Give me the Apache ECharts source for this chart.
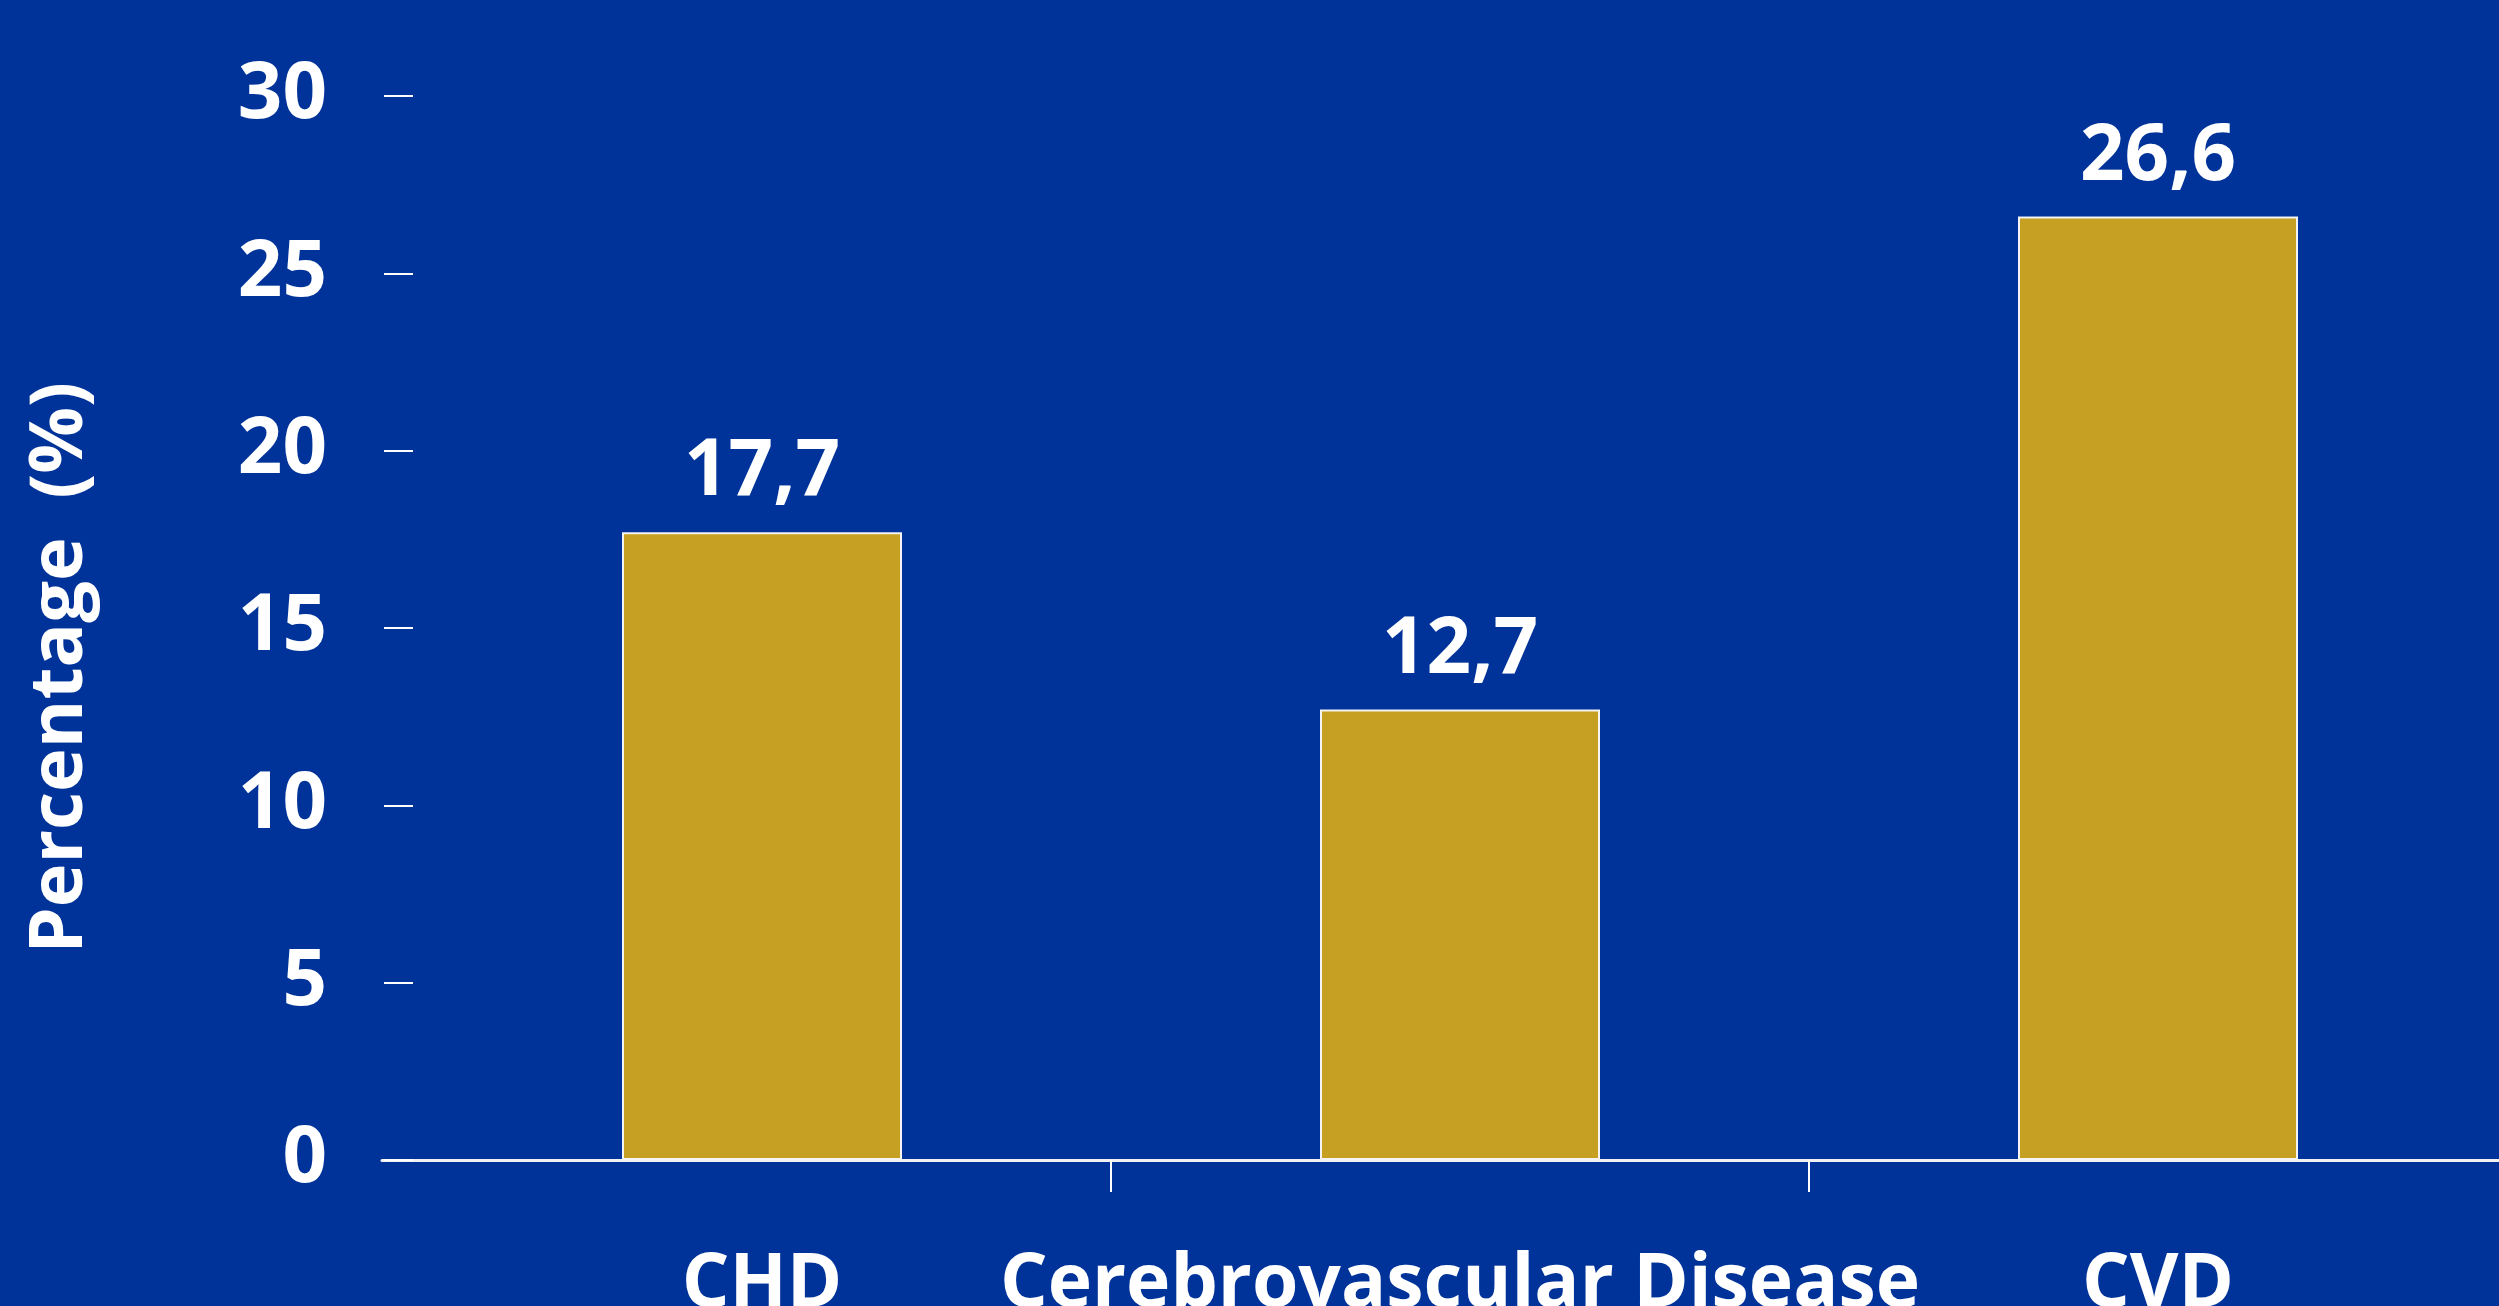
<!DOCTYPE html>
<html><head><meta charset="utf-8">
<script src="https://cdn.jsdelivr.net/npm/echarts@6/dist/echarts.min.js"></script>
<style>html,body{margin:0;padding:0;background:#003399;}#c{width:2499px;height:1306px;}</style>
</head><body><div id="c"></div>
<script>
const categories = ['CHD', 'Cerebrovascular Disease', 'CVD'];
const values = [17.7, 12.7, 26.6];
const yTicks = [0, 5, 10, 15, 20, 25, 30];
const yName = 'Percentage  (%)';

const FONT = '"Open Sans", "Noto Sans", sans-serif';
const chart = echarts.init(document.getElementById('c'));
const gTop = 96, gBottom = 146;
chart.setOption({
  backgroundColor: '#003399',
  animation: false,
  grid: [
    {left: 413, width: 2094, top: gTop, bottom: gBottom, containLabel: false, outerBoundsMode: 'none'},
    {left: 382, right: 0, top: gTop, bottom: gBottom, containLabel: false, outerBoundsMode: 'none'}
  ],
  xAxis: [{
    type: 'category', data: categories, gridIndex: 0,
    axisLine: {show: false},
    axisTick: {show: true, length: 32, lineStyle: {color: '#ffffff', width: 2},
      interval: function (i) { return i > 0; }},
    axisLabel: {color: '#ffffff', fontFamily: FONT, fontWeight: 'bold', fontSize: 75, margin: 88,
      interval: 0, hideOverlap: false}
  }, {
    type: 'value', gridIndex: 1, min: 0, max: 1,
    axisLine: {show: true, lineStyle: {color: '#f2f2f2', width: 3}},
    axisTick: {show: false}, axisLabel: {show: false}, splitLine: {show: false}
  }],
  yAxis: [{
    type: 'value', gridIndex: 0, min: yTicks[0], max: yTicks[yTicks.length - 1], interval: 5,
    axisLine: {show: false},
    axisTick: {show: true, length: 29, lineStyle: {color: '#ffffff', width: 2}},
    splitLine: {show: false},
    axisLabel: {color: '#ffffff', fontFamily: FONT, fontWeight: 'bold', fontSize: 78, margin: 86,
      formatter: function (v) { return yTicks.indexOf(v) >= 0 ? String(v) : ''; }}
  }, {
    type: 'value', gridIndex: 1, show: false, min: 0, max: 1
  }],
  graphic: [{
    type: 'text', left: 24, top: 382, rotation: Math.PI / 2,
    style: {text: yName, fill: '#ffffff', font: 'bold 74px ' + FONT}
  }],
  series: [{
    type: 'bar', data: values, xAxisIndex: 0, yAxisIndex: 0,
    barWidth: 280,
    itemStyle: {color: '#C6A023', borderColor: '#f4f4f4', borderWidth: 2},
    label: {show: true, position: 'top', distance: 20, color: '#ffffff',
      fontFamily: FONT, fontWeight: 'bold', fontSize: 78,
      formatter: function (p) { return String(p.value).replace('.', ','); }}
  }]
});
</script></body></html>
